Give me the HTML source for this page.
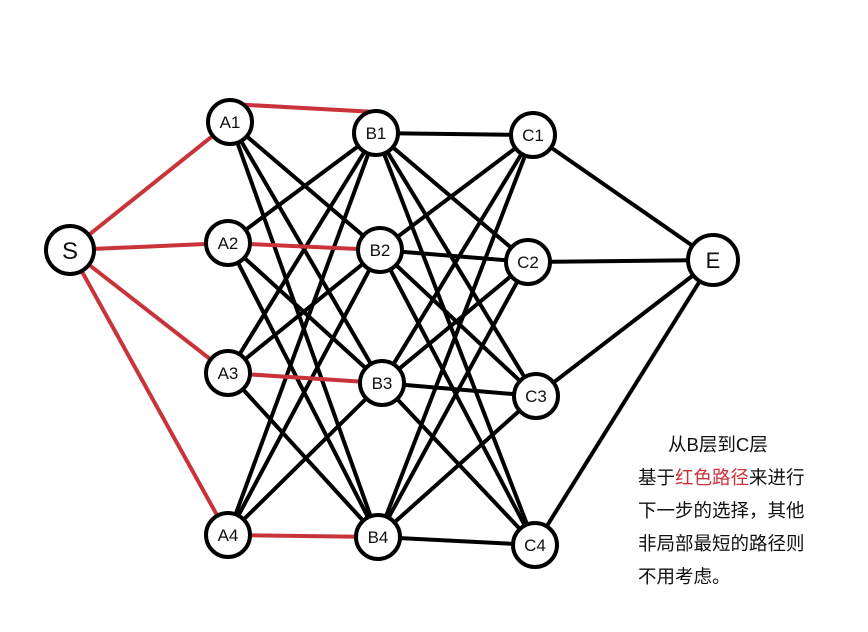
<!DOCTYPE html>
<html><head><meta charset="utf-8"><style>
body{margin:0;background:#fff;width:868px;height:632px;overflow:hidden;position:relative}
svg{position:absolute;left:0;top:0}
.t{position:absolute;left:638px;font-family:"Liberation Sans","Noto Sans CJK SC",sans-serif;font-size:18.5px;color:#111;line-height:33px;white-space:nowrap}
.r{color:#c9333a}
</style></head><body>
<svg width="868" height="632" xmlns="http://www.w3.org/2000/svg">
<g stroke="#000" stroke-width="4">
<line x1="230" y1="122" x2="380" y2="250"/><line x1="230" y1="122" x2="382" y2="383"/><line x1="230" y1="122" x2="378" y2="537"/>
<line x1="228" y1="243" x2="376" y2="133"/><line x1="228" y1="243" x2="382" y2="383"/><line x1="228" y1="243" x2="378" y2="537"/>
<line x1="228" y1="373" x2="376" y2="133"/><line x1="228" y1="373" x2="380" y2="250"/><line x1="228" y1="373" x2="378" y2="537"/>
<line x1="228" y1="535" x2="376" y2="133"/><line x1="228" y1="535" x2="380" y2="250"/><line x1="228" y1="535" x2="382" y2="383"/>
<line x1="376" y1="133" x2="533" y2="135"/><line x1="376" y1="133" x2="528" y2="262"/><line x1="376" y1="133" x2="536" y2="396"/><line x1="376" y1="133" x2="535" y2="545"/>
<line x1="380" y1="250" x2="533" y2="135"/><line x1="380" y1="250" x2="528" y2="262"/><line x1="380" y1="250" x2="536" y2="396"/><line x1="380" y1="250" x2="535" y2="545"/>
<line x1="382" y1="383" x2="533" y2="135"/><line x1="382" y1="383" x2="528" y2="262"/><line x1="382" y1="383" x2="536" y2="396"/><line x1="382" y1="383" x2="535" y2="545"/>
<line x1="378" y1="537" x2="533" y2="135"/><line x1="378" y1="537" x2="528" y2="262"/><line x1="378" y1="537" x2="536" y2="396"/><line x1="378" y1="537" x2="535" y2="545"/>
<line x1="533" y1="135" x2="713" y2="260"/><line x1="528" y1="262" x2="713" y2="260"/><line x1="536" y1="396" x2="713" y2="260"/><line x1="535" y1="545" x2="713" y2="260"/>
</g>
<g stroke="#c9333a" stroke-width="4">
<line x1="70" y1="250" x2="230" y2="122"/><line x1="70" y1="250" x2="228" y2="243"/><line x1="70" y1="250" x2="228" y2="373"/><line x1="70" y1="250" x2="228" y2="535"/>
<line x1="230" y1="104" x2="376" y2="112"/><line x1="228" y1="243" x2="380" y2="250"/><line x1="228" y1="373" x2="382" y2="383"/><line x1="228" y1="535" x2="378" y2="537"/>
</g>
<g fill="#fff" stroke="#000" stroke-width="4">
<circle cx="70" cy="250" r="24"/><circle cx="713" cy="260" r="25"/>
<circle cx="230" cy="122" r="22"/><circle cx="228" cy="243" r="22"/><circle cx="228" cy="373" r="22"/><circle cx="228" cy="535" r="22"/>
<circle cx="376" cy="133" r="22"/><circle cx="380" cy="250" r="22"/><circle cx="382" cy="383" r="22"/><circle cx="378" cy="537" r="22"/>
<circle cx="533" cy="135" r="22"/><circle cx="528" cy="262" r="22"/><circle cx="536" cy="396" r="22"/><circle cx="535" cy="545" r="22"/>
</g>
<g font-family="Liberation Sans, sans-serif" font-size="17" fill="#111" text-anchor="middle">
<text x="70" y="259" font-size="24">S</text><text x="713" y="268" font-size="22">E</text>
<text x="230" y="128">A1</text><text x="228" y="249">A2</text><text x="228" y="379">A3</text><text x="228" y="541">A4</text>
<text x="376" y="139">B1</text><text x="380" y="256">B2</text><text x="382" y="389">B3</text><text x="378" y="543">B4</text>
<text x="533" y="141">C1</text><text x="528" y="268">C2</text><text x="536" y="402">C3</text><text x="535" y="551">C4</text>
</g>
</svg>
<div class="t" style="top:428px;left:668px">从B层到C层</div>
<div class="t" style="top:461px">基于<span class="r">红色路径</span>来进行</div>
<div class="t" style="top:494px">下一步的选择，其他</div>
<div class="t" style="top:527px">非局部最短的路径则</div>
<div class="t" style="top:560px">不用考虑。</div>
</body></html>
